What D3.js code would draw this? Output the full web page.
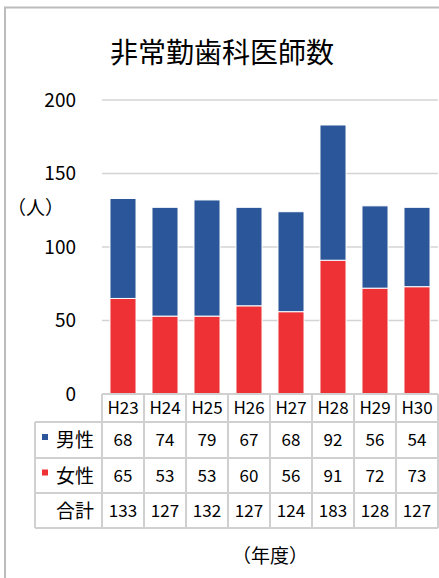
<!DOCTYPE html>
<html>
<head>
<meta charset="utf-8">
<script src="https://cdn.jsdelivr.net/npm/d3@7/dist/d3.min.js"></script>
<style>
body { margin: 0; background: #fff; }
text { font-family: "Noto Sans CJK JP", sans-serif; fill: #000; }
</style>
</head>
<body>
<script>
// データ
var years = ["H23", "H24", "H25", "H26", "H27", "H28", "H29", "H30"];
var male = [68, 74, 79, 67, 68, 92, 56, 54];
var female = [65, 53, 53, 60, 56, 91, 72, 73];
var total = [133, 127, 132, 127, 124, 183, 128, 127];
var yTicks = [0, 50, 100, 150, 200];
var seriesNames = ["女性", "男性"];
var colors = { "男性": "#2b569a", "女性": "#ee3135" };

var width = 439, height = 578;
var plotLeft = 102, plotRight = 438, plotTop = 100, plotBottom = 394;

var svg = d3.select("body").append("svg")
    .attr("width", width)
    .attr("height", height);

// 枠線
svg.append("rect")
    .attr("x", 5).attr("y", 7.5)
    .attr("width", 460).attr("height", 600)
    .attr("fill", "none")
    .attr("stroke", "#bcbcbc")
    .attr("stroke-width", 2);

// タイトル
svg.append("text")
    .attr("x", 222).attr("y", 63)
    .attr("text-anchor", "middle")
    .style("font-size", "28px")
    .text("非常勤歯科医師数");

var x = d3.scaleBand()
    .domain(years)
    .range([plotLeft, plotRight])
    .paddingInner(0.38)
    .paddingOuter(0.19);

var y = d3.scaleLinear()
    .domain([0, 200])
    .range([plotBottom, plotTop]);

// グリッド線
svg.selectAll(".grid").data(yTicks.slice(1))
    .enter().append("line")
    .attr("x1", plotLeft).attr("x2", plotRight)
    .attr("y1", function(d) { return y(d); })
    .attr("y2", function(d) { return y(d); })
    .attr("stroke", "#d4d4d4")
    .attr("stroke-width", 1.5);

// y軸ラベル
var yAxis = d3.axisLeft(y).tickValues(yTicks).tickSize(0).tickPadding(26);
var yg = svg.append("g").attr("transform", "translate(" + plotLeft + ",0)").call(yAxis);
yg.select(".domain").remove();
yg.selectAll("text").style("font-size", "19px").style("font-family", "\"Noto Sans CJK JP\", sans-serif");

svg.append("text")
    .attr("x", 7).attr("y", 215)
    .style("font-size", "19px")
    .text("（人）");

// 積み上げ
var table = years.map(function(yr, i) {
    return { year: yr, "男性": male[i], "女性": female[i] };
});
var stacked = d3.stack().keys(seriesNames)(table);

svg.selectAll(".series").data(stacked)
    .enter().append("g")
    .attr("fill", function(s) { return colors[s.key]; })
    .selectAll("rect").data(function(s) { return s; })
    .enter().append("rect")
    .attr("x", function(d) { return x(d.data.year); })
    .attr("y", function(d) { return y(d[1]); })
    .attr("width", x.bandwidth())
    .attr("height", function(d) { return y(d[0]) - y(d[1]); })
    .attr("stroke", "#fff")
    .attr("stroke-width", 1);

// データテーブル
var rowEdges = [394, 422, 458, 493, 528];
var tableLeft = 35;
var step = x.step();
var lineColor = "#d0d0d0";
var tg = svg.append("g");

// 横線
tg.append("line").attr("x1", plotLeft).attr("x2", plotRight)
    .attr("y1", rowEdges[0]).attr("y2", rowEdges[0])
    .attr("stroke", lineColor).attr("stroke-width", 2);
rowEdges.slice(1).forEach(function(ry) {
    tg.append("line").attr("x1", tableLeft).attr("x2", plotRight)
        .attr("y1", ry).attr("y2", ry)
        .attr("stroke", lineColor).attr("stroke-width", 2);
});
// 縦線
tg.append("line").attr("x1", tableLeft).attr("x2", tableLeft)
    .attr("y1", rowEdges[1]).attr("y2", rowEdges[4])
    .attr("stroke", lineColor).attr("stroke-width", 2);
d3.range(years.length + 1).forEach(function(i) {
    var cx = plotLeft + i * step;
    tg.append("line").attr("x1", cx).attr("x2", cx)
        .attr("y1", rowEdges[0]).attr("y2", rowEdges[4])
        .attr("stroke", lineColor).attr("stroke-width", 2);
});

function center(yr) { return x(yr) + x.bandwidth() / 2; }

// 年度ヘッダー
tg.selectAll(".hdr").data(years).enter().append("text")
    .attr("x", center)
    .attr("y", (rowEdges[0] + rowEdges[1]) / 2 + 6)
    .attr("text-anchor", "middle")
    .style("font-size", "17px")
    .text(function(d) { return d; });

var rows = [
    { label: "男性", values: male, color: colors["男性"] },
    { label: "女性", values: female, color: colors["女性"] },
    { label: "合計", values: total, color: null }
];

rows.forEach(function(r, ri) {
    var midY = (rowEdges[ri + 1] + rowEdges[ri + 2]) / 2;
    tg.append("text")
        .attr("x", plotLeft - 8)
        .attr("y", midY + 7)
        .attr("text-anchor", "end")
        .style("font-size", "19px")
        .text(r.label);
    if (r.color) {
        tg.append("rect")
            .attr("x", 42).attr("y", midY - 6)
            .attr("width", 6).attr("height", 6)
            .attr("fill", r.color);
    }
    tg.selectAll(".v" + ri).data(r.values).enter().append("text")
        .attr("x", function(d, i) { return center(years[i]); })
        .attr("y", midY + 6)
        .attr("text-anchor", "middle")
        .style("font-size", "17px")
        .text(function(d) { return d; });
});

svg.append("text")
    .attr("x", 270).attr("y", 563)
    .attr("text-anchor", "middle")
    .style("font-size", "19px")
    .text("（年度）");
</script>
</body>
</html>
